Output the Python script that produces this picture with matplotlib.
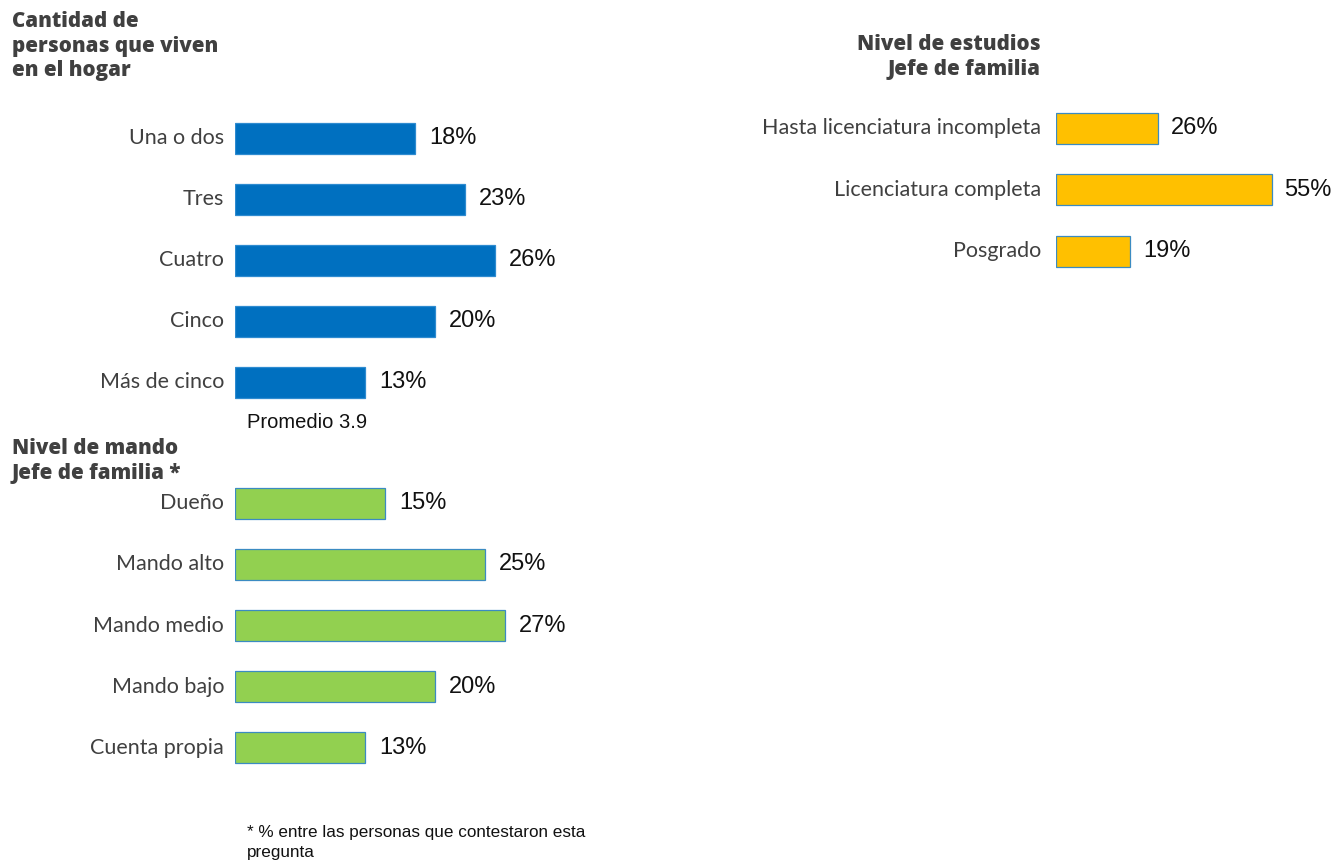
import matplotlib
matplotlib.use("Agg")
import matplotlib.pyplot as plt

W, H = 1337, 865

hogar_cats = ["Una o dos", "Tres", "Cuatro", "Cinco", "Más de cinco"]
hogar_vals = [18, 23, 26, 20, 13]

mando_cats = ["Dueño", "Mando alto", "Mando medio", "Mando bajo", "Cuenta propia"]
mando_vals = [15, 25, 27, 20, 13]

estudios_cats = ["Hasta licenciatura incompleta", "Licenciatura completa", "Posgrado"]
estudios_vals = [26, 55, 19]

fig = plt.figure(figsize=(W / 100, H / 100), dpi=100)
fig.patch.set_facecolor("white")

LABEL_FONT = ["Lato", "DejaVu Sans"]
VAL_FONT = ["Liberation Sans", "DejaVu Sans"]
TITLE_FONT = ["Open Sans", "DejaVu Sans"]


def fx(x):
    return x / W


def fy(y):
    return 1 - y / H


def panel(left, top, px_per_pct, xmax, slot, cats, vals, color, edge, lab_gap, val_gap):
    n = len(cats)
    height_px = n * slot
    width_px = px_per_pct * xmax
    ax = fig.add_axes([fx(left), fy(top + height_px), width_px / W, height_px / H])
    y = list(range(n))
    ax.barh(y, vals, height=31 / slot, color=color, edgecolor=edge, linewidth=0.9)
    ax.set_xlim(0, xmax)
    ax.set_ylim(n - 0.5, -0.5)
    ax.axis("off")
    for i, (c, v) in enumerate(zip(cats, vals)):
        ax.annotate(c, xy=(0, i), xytext=(-lab_gap, 0), textcoords="offset pixels",
                    ha="right", va="center", fontsize=15.5, color="#404040",
                    family=LABEL_FONT)
        ax.annotate(f"{v}%", xy=(v, i), xytext=(val_gap, 0), textcoords="offset pixels",
                    ha="left", va="center", fontsize=17, color="#111111",
                    family=VAL_FONT)
    return ax


panel(235, 107.5, 10, 30, 61, hogar_cats, hogar_vals, "#0070C0", "#2E8BD0", 11, 14)
panel(235, 472.5, 10, 30, 61.2, mando_cats, mando_vals, "#92D050", "#3B8BC2", 11, 14)
panel(1056, 97.5, 3.92, 60, 61.5, estudios_cats, estudios_vals, "#FFC000", "#3B8BC2", 15, 13)

title_kw = dict(fontsize=14.8, fontweight=800, color="#404040", family=TITLE_FONT,
                linespacing=1.22)
fig.text(fx(12), fy(11), "Cantidad de\npersonas que viven\nen el hogar", ha="left", va="top", **title_kw)
fig.text(fx(1041), fy(34), "Nivel de estudios\nJefe de familia", ha="right", va="top", **title_kw)
fig.text(fx(12), fy(438), "Nivel de mando\nJefe de familia *", ha="left", va="top", **title_kw)

fig.text(fx(247), fy(423), "Promedio 3.9", ha="left", va="center", fontsize=14.5,
         color="#111111", family=VAL_FONT)
fig.text(fx(247), fy(825), "* % entre las personas que contestaron esta\npregunta", ha="left",
         va="top", fontsize=12.3, color="#111111", family=VAL_FONT, linespacing=1.45)

fig.savefig("out.png", dpi=100, facecolor="white")
